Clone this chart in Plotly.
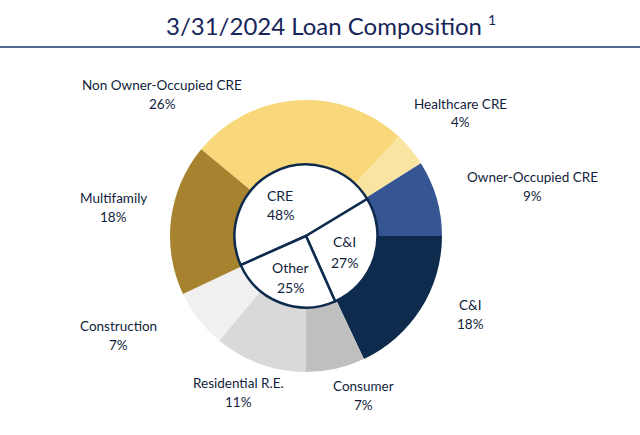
import plotly.graph_objects as go

# ---- data ----
outer_labels = ["Non Owner-Occupied CRE", "Healthcare CRE", "Owner-Occupied CRE", "C&I",
                "Consumer", "Residential R.E.", "Construction", "Multifamily"]
outer_values = [26, 4, 9, 18, 7, 11, 7, 18]
inner_labels = ["CRE", "C&I", "Other"]
inner_values = [48, 27, 25]
title_text = "3/31/2024 Loan Composition"
footnote_mark = "1"

# ---- styles / layout ----
W, H = 640, 435
outer_colors = ["#F8D87A", "#FAE4A2", "#355692", "#0E2A4D",
                "#BFBFBF", "#D9D9D9", "#F0F0F0", "#A8832F"]
navy = "#0E2A4D"
text_color = "#111E3C"
font_family = "Lato, Open Sans, sans-serif"

cx, cy, r_out, r_in = 306, 236, 136, 71.5

def xdom(c, r):
    return [(c - r) / W, (c + r) / W]

def ydom(c, r):
    return [1 - (c + r) / H, 1 - (c - r) / H]

# label positions (pixel centre of first line)
outer_pos = [(162, 85), (460, 104), (532, 177), (470, 305),
             (363, 386), (238, 383), (118, 326), (113, 198)]
inner_pos = [(280, 195), (344, 242), (290, 267)]

fig = go.Figure()
fig.add_trace(go.Pie(
    labels=outer_labels, values=outer_values, sort=False, direction="clockwise",
    rotation=-50.4, hole=0.5, textinfo="none", hoverinfo="label+percent",
    marker=dict(colors=outer_colors, line=dict(width=0)),
    domain=dict(x=xdom(cx, r_out), y=ydom(cy, r_out)),
))
fig.add_trace(go.Pie(
    labels=inner_labels, values=inner_values, sort=False, direction="clockwise",
    rotation=-114, textinfo="none", hoverinfo="label+percent",
    marker=dict(colors=["#FFFFFF"] * 3, line=dict(width=2.5, color=navy)),
    domain=dict(x=xdom(cx, r_in), y=ydom(cy, r_in)),
))

annotations = []

def add_label(name, val, pos, size, gap):
    x, y = pos
    for i, t in enumerate([name, f"{val}%"]):
        annotations.append(dict(
            x=x / W, y=1 - (y + i * gap) / H, xref="paper", yref="paper",
            text=t, showarrow=False, xanchor="center", yanchor="middle",
            font=dict(family=font_family, size=size, color=text_color)))

for n, v, p in zip(outer_labels, outer_values, outer_pos):
    add_label(n, v, p, 13.5, 18.5)
for n, v, p in zip(inner_labels, inner_values, inner_pos):
    add_label(n, v, p, 14, 20)

annotations.append(dict(
    x=324 / W, y=1 - 25 / H, xref="paper", yref="paper", text=title_text,
    showarrow=False, xanchor="center", yanchor="middle",
    font=dict(family=font_family, size=24, color="#17265A")))
annotations.append(dict(
    x=492 / W, y=1 - 20 / H, xref="paper", yref="paper", text=footnote_mark,
    showarrow=False, xanchor="center", yanchor="middle",
    font=dict(family=font_family, size=14, color="#17265A")))

fig.update_layout(
    width=W, height=H, autosize=False,
    margin=dict(l=0, r=0, t=0, b=0),
    paper_bgcolor="white", plot_bgcolor="white",
    showlegend=False,
    annotations=annotations,
    shapes=[dict(type="line", xref="paper", yref="paper",
                 x0=0, x1=1, y0=1 - 47 / H, y1=1 - 47 / H,
                 line=dict(color="#51698F", width=2))],
)

fig.write_html("out.html")
